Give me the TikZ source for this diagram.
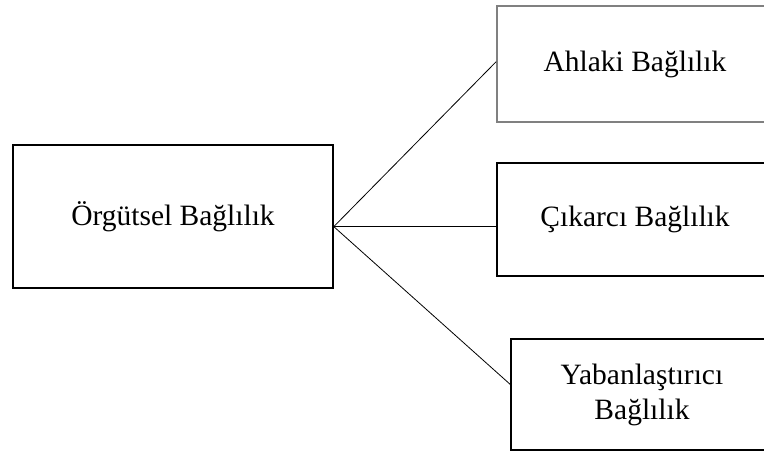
\documentclass[tikz,border=0pt]{standalone}
\usepackage{fontspec}
\setmainfont{Liberation Serif}
\usetikzlibrary{calc}
\begin{document}
\begin{tikzpicture}[x=1pt,y=-1pt,
  box/.style={draw=black,line width=1.6pt,rectangle,inner sep=0pt,align=center,
    font=\fontsize{29.5}{35}\selectfont},
  conn/.style={draw=black,line width=0.8pt}]
\useasboundingbox (0,0) rectangle (764,453);
\clip (0,0) rectangle (764,453);
\node[box,minimum width=320,minimum height=143] (org) at (173,216.5) {Örgütsel Bağlılık};
\node[box,draw=black!50,minimum width=276,minimum height=116] (ahl) at (635,64) {Ahlaki Bağlılık};
\node[box,minimum width=276,minimum height=113] (cik) at (635,219.5) {Çıkarcı Bağlılık};
\node[box,minimum width=262,minimum height=111] (yab) at (642,394.5) {Yabanlaştırıcı\\Bağlılık};
\coordinate (hub) at ($(org.north east)!0.57!(org.south east)$);
\draw[conn] (hub) -- ($(ahl.north west)!0.48!(ahl.south west)$);
\draw[conn] (hub) -- (hub -| cik.west);
\draw[conn] (hub) -- ($(yab.north west)!0.41!(yab.south west)$);
\end{tikzpicture}
\end{document}
